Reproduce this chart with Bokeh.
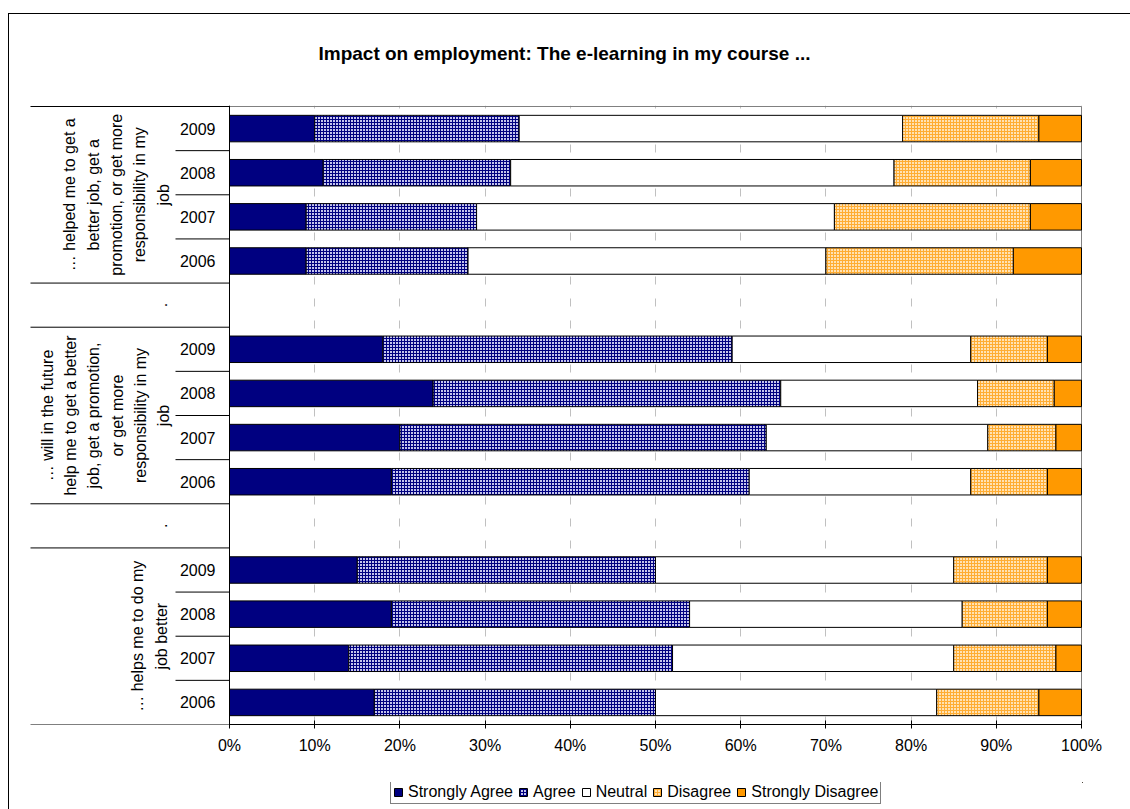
import math
from bokeh.plotting import figure
from bokeh.layouts import column
from bokeh.models import (Range1d, FixedTicker, PrintfTickFormatter, Legend,
                          LegendItem, ColumnDataSource, Span)
from bokeh.core.properties import value
from bokeh.embed import file_html
from bokeh.resources import INLINE

# ---------------- data ----------------
title_text = "Impact on employment: The e-learning in my course ..."
years = ["2009", "2008", "2007", "2006"]
group_labels = [
    "… helped me to get a\nbetter job, get a\npromotion, or get more\nresponsibility in my\njob",
    "… will in the future\nhelp me to get a better\njob, get a promotion,\nor get more\nresponsibility in my\njob",
    "… helps me to do my\njob better",
]
spacer_label = "."
series_names = ["Strongly Agree", "Agree", "Neutral", "Disagree", "Strongly Disagree"]
# order inside each group: 2009, 2008, 2007, 2006
strongly_agree = [10, 11, 9, 9, 18, 23.9, 20, 19, 15, 19, 14, 17]
agree = [24, 22, 20, 19, 41, 40.8, 43, 42, 35, 35, 38, 33]
neutral = [45, 45, 42, 42, 28, 23.1, 26, 26, 35, 32, 33, 33]
disagree = [16, 16, 23, 22, 9, 9.0, 8, 9, 11, 10, 12, 12]
strongly_disagree = [5, 6, 6, 8, 4, 3.2, 3, 4, 4, 4, 3, 5]
x_ticks = list(range(0, 101, 10))

# ---------------- layout ----------------
W, H = 1130, 809
MAIN_H = 782                                        # chart part; legend strip below
AX_L, AX_R, AX_T, AX_B = 229, 1081, 106, 724        # plot area in page pixels
FRAME_R, FRAME_T = 1082, 105                        # drawing frame edges
N_ROWS = 14
FONT = "Liberation Sans"
PX = (AX_R - AX_L) / 100.0          # pixels per percent
PY = (AX_B - AX_T) / float(N_ROWS)  # pixels per row


def dx(sx):
    return (sx - AX_L) / PX


def dy(sy):
    return N_ROWS - (sy - AX_T) / PY


fig = figure(width=W, height=MAIN_H, output_backend="svg", toolbar_location=None,
             x_range=Range1d(dx(0), dx(FRAME_R)), y_range=Range1d(0, dy(FRAME_T)),
             y_axis_location=None,
             min_border_left=0, min_border_right=W - FRAME_R,
             min_border_top=FRAME_T, min_border_bottom=MAIN_H - AX_B)
fig.background_fill_color = None
fig.border_fill_color = None
fig.outline_line_color = None

# title
fig.title.text = title_text
fig.title.align = "left"
fig.title.offset = 318
fig.title.vertical_align = "top"
fig.title.standoff = 80
fig.title.text_font = FONT
fig.title.text_font_size = "19px"
fig.title.text_font_style = "bold"
fig.title.text_color = "black"

# grid
fig.xgrid.ticker = FixedTicker(ticks=x_ticks)
fig.xgrid.grid_line_color = "#c0c0c0"
fig.xgrid.grid_line_dash = "8 14"
fig.ygrid.visible = False

# plot area border (top and right, grey)
fig.segment(x0=[0, 100], y0=[N_ROWS, N_ROWS], x1=[100, 100], y1=[N_ROWS, 0],
            line_color="#808080", line_width=1)

# row positions
row_y = []
for g in range(3):
    for k in range(4):
        row_y.append(N_ROWS - (g * 5 + k) - 0.5)

styles = [
    dict(fill_color="#000080"),
    dict(fill_color="#c4c4ec", hatch_pattern="+", hatch_color="#000080",
         hatch_scale=3, hatch_weight=1),
    dict(fill_color="#ffffff"),
    dict(fill_color="#ffe2b4", hatch_pattern="+", hatch_color="#ffad33",
         hatch_scale=3, hatch_weight=1),
    dict(fill_color="#ff9900"),
]
all_vals = [strongly_agree, agree, neutral, disagree, strongly_disagree]

cum = [0.0] * len(row_y)
for name, vals, sty in zip(series_names, all_vals, styles):
    left = cum[:]
    right = [c + v for c, v in zip(cum, vals)]
    src = ColumnDataSource(dict(y=row_y, left=left, right=right))
    fig.hbar(y="y", left="left", right="right", height=0.6, source=src,
             line_color="#000000", line_width=1, **sty)
    cum = right

# x axis
fig.xaxis.ticker = FixedTicker(ticks=x_ticks)
fig.xaxis.bounds = (0, 100)
fig.xaxis.formatter = PrintfTickFormatter(format="%d%%")
fig.xaxis.axis_line_color = "black"
fig.xaxis.major_tick_line_color = "black"
fig.xaxis.major_tick_in = 4
fig.xaxis.major_tick_out = 4
fig.xaxis.minor_tick_line_color = None
fig.xaxis.major_label_standoff = 8
fig.xaxis.major_label_text_font = FONT
fig.xaxis.major_label_text_font_size = "16px"
fig.xaxis.major_label_text_color = "black"

# vertical category axis line
fig.add_layout(Span(location=0, dimension="height", line_color="black", line_width=1))

# separator lines of the category labels
full_y = [14, 10, 9, 5, 4, 0]
year_y = [13, 12, 11, 8, 7, 6, 3, 2, 1]
sep = ColumnDataSource(dict(
    x0=[dx(30)] * len(full_y) + [dx(175)] * len(year_y),
    x1=[0] * (len(full_y) + len(year_y)),
    y=full_y + year_y))
fig.segment(x0="x0", y0="y", x1="x1", y1="y", source=sep, line_color="black", line_width=1)

# year labels
ysrc = ColumnDataSource(dict(x=[dx(215)] * len(row_y), y=row_y,
                             t=[years[i % 4] for i in range(len(row_y))]))
fig.text(x="x", y="y", text="t", source=ysrc, text_align="right", text_baseline="middle",
         text_font=value(FONT), text_font_size="16px", text_color="black")

# question labels (rotated)
LINE = 22
g_texts = [group_labels[0], spacer_label, group_labels[1], spacer_label, group_labels[2]]
g_y = [12, 9.5, 7, 4.5, 2]
g_x = []
for t in g_texts:
    n = t.count("\n") + 1
    g_x.append(dx(160 - (n - 1) * LINE / 2.0))
gsrc = ColumnDataSource(dict(x=g_x, y=g_y, t=g_texts))
fig.text(x="x", y="y", text="t", source=gsrc, angle=math.pi / 2,
         text_align="center", text_baseline="middle",
         text_font=value(FONT), text_font_size="16px",
         text_line_height=LINE / 16.0, text_color="black")

# ---------------- legend strip ----------------
LEG_H = H - MAIN_H
lf = figure(width=W, height=LEG_H, output_backend="svg", toolbar_location=None,
            x_range=Range1d(0, 1), y_range=Range1d(0, 1),
            x_axis_location=None, y_axis_location=None,
            min_border_left=0, min_border_right=0, min_border_top=0, min_border_bottom=0)
lf.background_fill_color = None
lf.border_fill_color = None
lf.outline_line_color = None
lf.grid.visible = False
items = []
for name, sty in zip(series_names, styles):
    # legend keys only; the bar itself lies outside this strip's ranges
    r = lf.hbar(y=[5], left=[5], right=[6], height=0.6,
                line_color="#000000", line_width=1, **sty)
    items.append(LegendItem(label=name, renderers=[r]))
legend = Legend(items=items, orientation="horizontal", location=(390, 5),
                label_text_font=FONT, label_text_font_size="16px",
                label_text_color="black", glyph_width=10, glyph_height=10,
                label_standoff=5, spacing=5, padding=2, margin=0,
                label_height=16, border_line_color="black", border_line_width=1,
                background_fill_color="white", background_fill_alpha=1)
lf.add_layout(legend)

p = column(fig, lf, spacing=0)
# outer chart frame (left and top edges; right/bottom lie beyond the picture)
p.styles = {
    "background-color": "white",
    "background-image": "linear-gradient(#000, #000), linear-gradient(#000, #000)",
    "background-repeat": "no-repeat",
    "background-position": "8px 13px, 8px 13px",
    "background-size": "1px 100%, 100% 1px",
}

open("out.html", "w").write(file_html(p, INLINE))
